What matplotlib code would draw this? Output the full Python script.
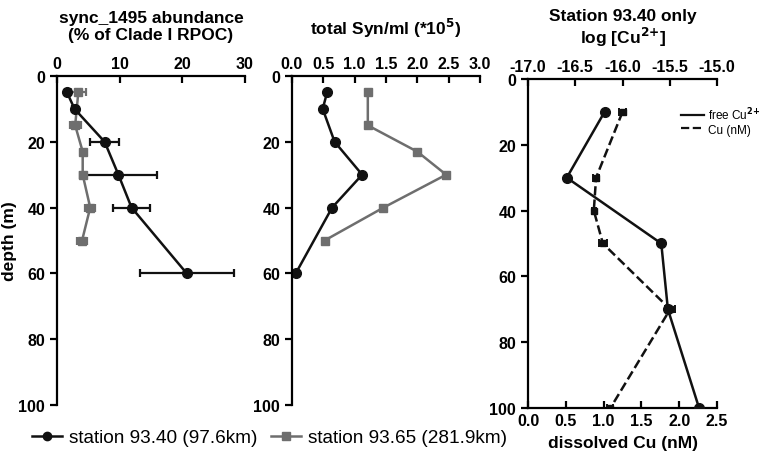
import matplotlib
matplotlib.use("Agg")
import matplotlib.pyplot as plt
from matplotlib.lines import Line2D

plt.rcParams['font.family'] = ['Liberation Sans', 'DejaVu Sans']
plt.rcParams['font.weight'] = 'bold'

# panel 1: sync_1495 abundance (% of Clade I RPOC)
depth_a1 = [5, 10, 20, 30, 40, 60]
abund_a1 = [1.6, 2.8, 7.6, 9.8, 11.9, 20.7]
err_a1 = [0.3, 0.4, 2.3, 6.1, 3.0, 7.5]
depth_b1 = [5, 15, 23, 30, 40, 50]
abund_b1 = [3.4, 2.9, 4.1, 4.1, 5.3, 4.0]
err_b1 = [1.2, 0.9, 0.3, 0.3, 0.8, 0.8]

# panel 2: total Syn/ml (*10^5)
depth_a2 = [5, 10, 20, 30, 40, 60]
syn_a2 = [0.56, 0.49, 0.68, 1.12, 0.64, 0.06]
depth_b2 = [5, 15, 23, 30, 40, 50]
syn_b2 = [1.21, 1.21, 2.0, 2.46, 1.46, 0.52]

# panel 3: station 93.40 copper
depth_cu = [10, 30, 50, 70, 100]
log_free_cu = [-16.19, -16.59, -15.59, -15.52, -15.19]
depth_dcu = [10, 30, 40, 50, 70, 100]
diss_cu = [1.25, 0.90, 0.87, 0.99, 1.88, 1.09]
err_dcu = [0.05, 0.04, 0.03, 0.05, 0.07, 0.04]

black = '#111111'
gray = '#6e6e6e'
tick_fs = 11.5
title_fs = 12.5

fig = plt.figure(figsize=(7.59, 4.60), dpi=100)
ax1 = fig.add_axes([0.0751, 0.1174, 0.2477, 0.7152])
ax2 = fig.add_axes([0.3847, 0.1174, 0.2477, 0.7152])
ax3 = fig.add_axes([0.6957, 0.1109, 0.2490, 0.7152])


def style_depth(ax, bottom=False):
    ax.set_ylim(100, 0)
    ax.set_yticks([0, 20, 40, 60, 80, 100])
    ax.spines['right'].set_visible(False)
    ax.spines['bottom'].set_visible(bottom)
    for s in ax.spines.values():
        s.set_linewidth(1.6)
    ax.xaxis.set_ticks_position('top')
    ax.xaxis.set_label_position('top')
    ax.tick_params(axis='y', direction='out', length=5, width=1.6, labelsize=tick_fs)
    ax.tick_params(axis='x', direction='in', length=5, width=1.6, labelsize=tick_fs)
    for lab in ax.get_xticklabels() + ax.get_yticklabels():
        lab.set_fontweight('bold')


# panel 1
ax1.errorbar(abund_b1, depth_b1, xerr=err_b1, color=gray, marker='s', ms=6,
             lw=1.8, capsize=3, elinewidth=1.6, capthick=1.6)
ax1.errorbar(abund_a1, depth_a1, xerr=err_a1, color=black, marker='o', ms=7,
             lw=1.8, capsize=3, elinewidth=1.6, capthick=1.6)
ax1.set_xlim(0, 30)
ax1.set_xticks([0, 10, 20, 30])
style_depth(ax1)
ax1.set_title('sync_1495 abundance\n(% of Clade I RPOC)', fontsize=title_fs,
              fontweight='bold', pad=27, linespacing=1.1)
ax1.set_ylabel('depth (m)', fontsize=title_fs, fontweight='bold', labelpad=1)

# panel 2
ax2.plot(syn_b2, depth_b2, color=gray, marker='s', ms=6, lw=1.8)
ax2.plot(syn_a2, depth_a2, color=black, marker='o', ms=7, lw=1.8)
ax2.set_xlim(0, 3.0)
ax2.set_xticks([0.0, 0.5, 1.0, 1.5, 2.0, 2.5, 3.0])
ax2.set_xticklabels(['0.0', '0.5', '1.0', '1.5', '2.0', '2.5', '3.0'])
style_depth(ax2)
ax2.set_title('total Syn/ml (*10$^{\\mathbf{5}}$)', fontsize=title_fs,
              fontweight='bold', pad=30)

# panel 3: bottom axis dissolved Cu, top axis log free Cu2+
ax3.errorbar(diss_cu, depth_dcu, xerr=err_dcu, color=black, marker='s', ms=5,
             lw=1.8, ls='--', capsize=3, elinewidth=1.4, capthick=1.4)
ax3.set_xlim(0, 2.5)
ax3.set_xticks([0.0, 0.5, 1.0, 1.5, 2.0, 2.5])
ax3.set_xticklabels(['0.0', '0.5', '1.0', '1.5', '2.0', '2.5'])
ax3.set_ylim(100, 0)
ax3.set_yticks([0, 20, 40, 60, 80, 100])
ax3.spines['right'].set_visible(False)
ax3.spines['top'].set_visible(False)
for s in ax3.spines.values():
    s.set_linewidth(1.6)
ax3.tick_params(axis='y', direction='out', length=5, width=1.6, labelsize=tick_fs)
ax3.tick_params(axis='x', direction='in', length=5, width=1.6, labelsize=tick_fs)
for lab in ax3.get_xticklabels() + ax3.get_yticklabels():
    lab.set_fontweight('bold')
ax3.set_xlabel('dissolved Cu (nM)', fontsize=title_fs, fontweight='bold', labelpad=5)

ax3t = ax3.twiny()
ax3t.plot(log_free_cu, depth_cu, color=black, marker='o', ms=7, lw=1.8)
ax3t.set_xlim(-17.0, -15.0)
ax3t.set_xticks([-17.0, -16.5, -16.0, -15.5, -15.0])
ax3t.set_xticklabels(['-17.0', '-16.5', '-16.0', '-15.5', '-15.0'])
ax3t.set_ylim(100, 0)
for side in ['right', 'bottom', 'left']:
    ax3t.spines[side].set_visible(False)
ax3t.spines['top'].set_linewidth(1.6)
ax3t.tick_params(axis='x', direction='in', length=5, width=1.6, labelsize=tick_fs)
for lab in ax3t.get_xticklabels():
    lab.set_fontweight('bold')
ax3t.set_title('Station 93.40 only\nlog [Cu$^{\\mathbf{2{+}}}$]', fontsize=title_fs,
               fontweight='bold', pad=26, linespacing=1.1)

cu_handles = [Line2D([], [], color=black, lw=1.6),
              Line2D([], [], color=black, lw=1.6, ls='--')]
ax3t.legend(cu_handles, ['free Cu$^{2{+}}$', 'Cu (nM)'], loc='upper left',
            bbox_to_anchor=(0.77, 0.94), frameon=False, handlelength=2.0,
            handletextpad=0.3, labelspacing=0.1, borderaxespad=0.2,
            prop={'size': 8.5, 'weight': 'normal'})

st_handles = [Line2D([], [], color=black, marker='o', ms=6, lw=1.8),
              Line2D([], [], color=gray, marker='s', ms=5.5, lw=1.8)]
fig.legend(st_handles, ['station 93.40 (97.6km)', 'station 93.65 (281.9km)'],
           loc='lower left', bbox_to_anchor=(0.02, -0.01), ncol=2,
           frameon=False, handlelength=1.55, handletextpad=0.4, columnspacing=0.7,
           prop={'size': 13.7, 'weight': 'normal'})

fig.savefig('out.png', dpi=100)
